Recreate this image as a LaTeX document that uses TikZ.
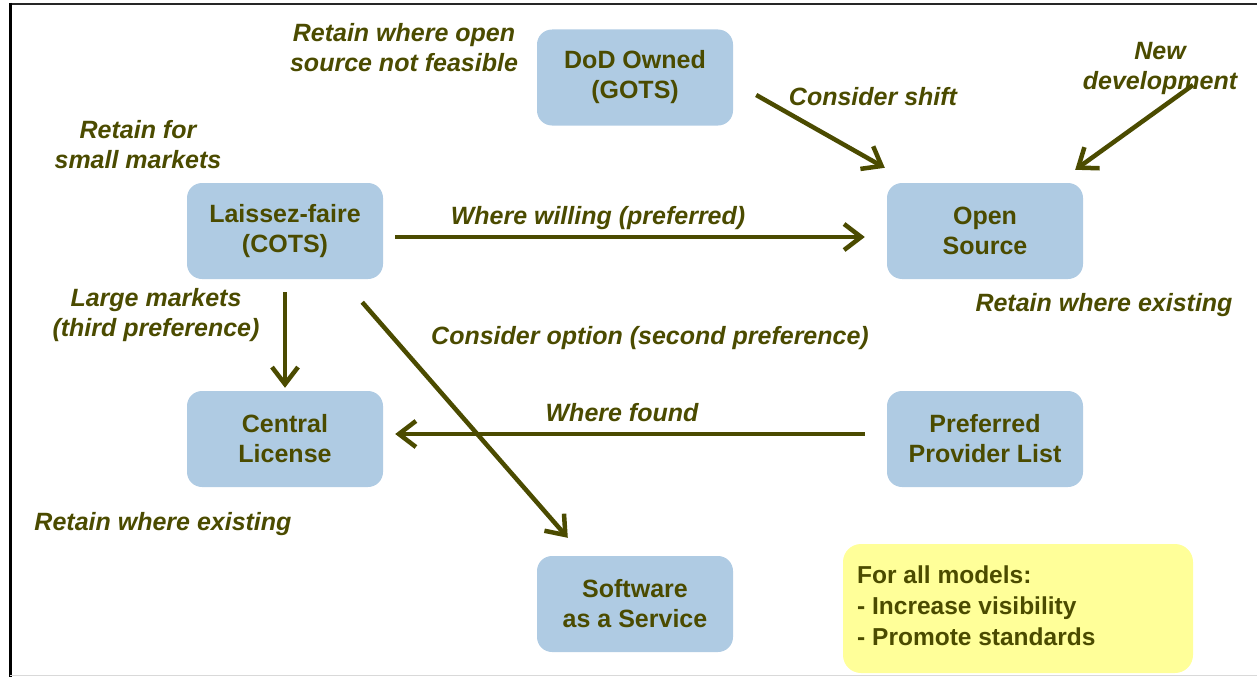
\documentclass[tikz,border=0pt]{standalone}
\usepackage{fontspec}
\setmainfont{Liberation Sans}
\usetikzlibrary{arrows.meta,calc}
\definecolor{boxblue}{RGB}{175,203,227}
\definecolor{olive}{RGB}{75,75,0}
\definecolor{note}{RGB}{255,255,153}
\tikzset{
  model/.style={draw=none, fill=boxblue, rounded corners=15pt, minimum width=196pt, minimum height=96pt,
    align=center, font=\fontsize{25}{30}\selectfont\bfseries, text=olive, inner sep=0pt},
  lbl/.style={align=center, font=\fontsize{25}{30}\selectfont\bfseries\itshape, text=olive, inner sep=0pt},
  arr/.style={draw=olive, line width=4.5pt, -{Straight Barb[length=17pt,width=26pt,line width=4.5pt]}},
}
\begin{document}
\begin{tikzpicture}[x=1pt,y=-1pt]
\useasboundingbox (0,0) rectangle (1257,677);
% frame
\draw[black!85, line width=2pt] (9,4) -- (1257,4);
\draw[black, line width=3pt] (10,3) -- (10,677);
\draw[black!15, line width=1.5pt] (10,675.5) -- (1257,675.5);

% boxes
\node[model] (dod) at (635,77.5) {DoD Owned\\(GOTS)};
\node[model] (cots) at (285,231) {Laissez-faire\\(COTS)};
\node[model] (open) at (985,231) {Open\\Source};
\node[model] (central) at (285,439) {Central\\License};
\node[model] (ppl) at (985,439) {Preferred\\Provider List};
\node[model] (saas) at (635,604) {Software\\as a Service};
\node[fill=note, rounded corners=18pt, minimum width=350pt, minimum height=129pt, inner sep=0pt] (allm) at (1018,608.5) {};
\node[anchor=west, align=left, inner sep=0pt, font=\fontsize{24.5}{31}\selectfont\bfseries, text=olive] (allt) at (857,605.5) {For all models:\\- Increase visibility\\- Promote standards};

% labels
\node[lbl] (l1) at (404,47.5) {Retain where open\\source not feasible};
\node[lbl] (l2) at (873,97) {Consider shift};
\node[lbl] (l3) at (1160,68.5) {New\\development};
\node[lbl] (l4) at (138,145) {Retain for\\small markets};
\node[lbl] (l5) at (598,218) {Where willing (preferred)};
\node[lbl] (l6) at (1104,305) {Retain where existing};
\node[lbl] (l7) at (156,315) {Large markets\\(third preference)};
\node[lbl] (l8) at (650,338) {Consider option (second preference)};
\node[lbl] (l9) at (622,413) {Where found};
\node[lbl] (l10) at (163,524) {Retain where existing};

% connectors
\coordinate (newdev) at (1193,85);
\draw[arr] ([shift={(23,17.5)}]dod.east) -- ([shift={(-2,-15)}]open.north west);
\draw[arr] (newdev) -- ([shift={(-8,-13)}]open.north east);
\draw[arr, shorten <=12pt, shorten >=22pt] ([yshift=-6pt]cots.east) -- ([yshift=-6pt]open.west);
\draw[arr, shorten <=13pt, shorten >=3pt] (cots.south) -- (central.north);
\draw[arr] ([shift={(-21,23)}]cots.south east) -- ([shift={(31,-18)}]saas.north west);
\draw[arr, shorten <=22pt, shorten >=12pt] ([yshift=5pt]ppl.west) -- ([yshift=5pt]central.east);
\end{tikzpicture}
\end{document}
